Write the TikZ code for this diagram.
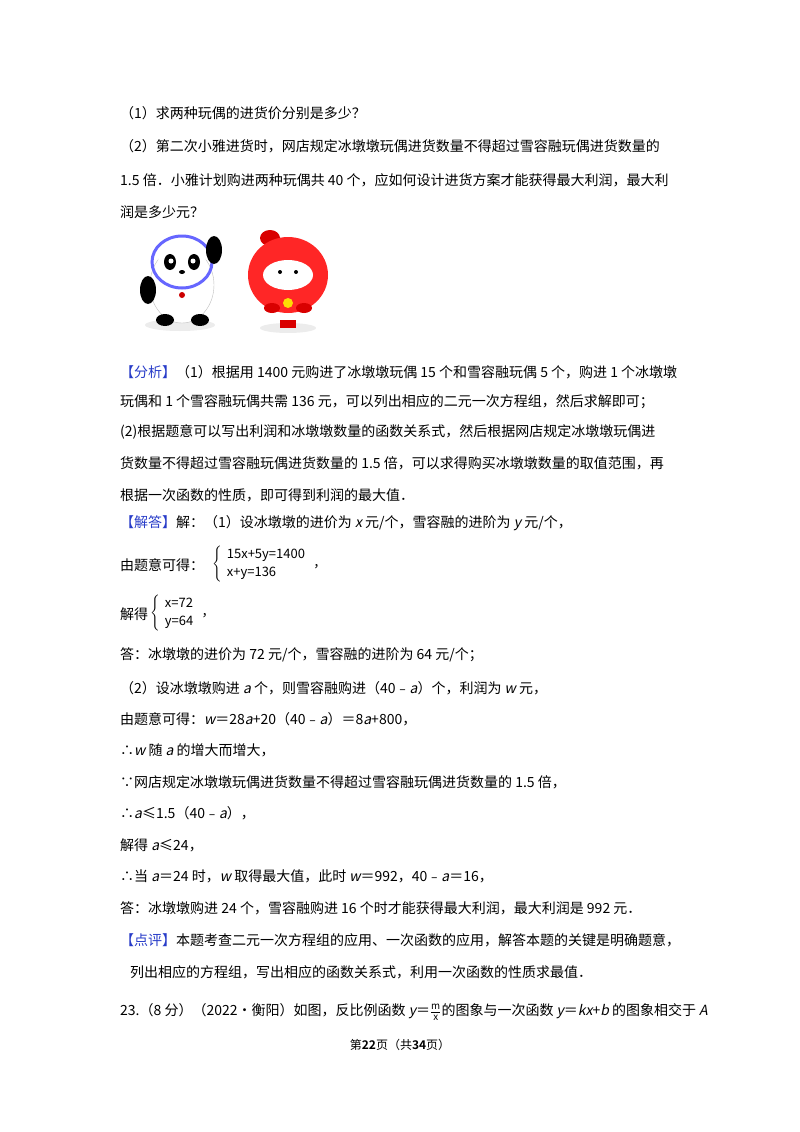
\documentclass[tikz,border=0pt]{standalone}
\usepackage{fontspec}
\setmainfont{Noto Sans CJK SC}[ItalicFont=Noto Sans CJK SC,ItalicFeatures={FakeSlant=0.2},BoldFont=Noto Sans CJK SC Bold]
\usepackage{amsmath}
\definecolor{hd}{RGB}{40,60,200}
\begin{document}
\begin{tikzpicture}[x=1pt,y=-1pt,
  t/.style={anchor=west,inner sep=0pt,font=\fontsize{14}{16}\selectfont},
  eq/.style={anchor=west,inner sep=0pt,font=\fontsize{13}{15}\selectfont}]
\useasboundingbox (0,0) rectangle (800,1132);
\node[t] (l1) at (120,113) {（1）求两种玩偶的进货价分别是多少？};
\node[t] (l2) at (120,146) {（2）第二次小雅进货时，网店规定冰墩墩玩偶进货数量不得超过雪容融玩偶进货数量的};
\node[t] (l3) at (120,180) {1.5 倍．小雅计划购进两种玩偶共 40 个，应如何设计进货方案才能获得最大利润，最大利};
\node[t] (l4) at (120,212) {润是多少元？};
% mascots
\begin{scope}
\fill[gray!15] (180,325) ellipse (35 and 6);
\fill[white,draw=gray!50] (182,285) ellipse (32 and 38);
\draw[blue!60,line width=3pt] (182,262) ellipse (30 and 26);
\fill[white] (182,262) ellipse (24 and 20);
\fill[black] (170,262) ellipse (6 and 8);
\fill[black] (194,262) ellipse (6 and 8);
\fill[white] (171,261) circle (2.5);
\fill[white] (193,261) circle (2.5);
\fill[black] (182,272) ellipse (3 and 2);
\fill[black] (148,290) ellipse (8 and 14);
\fill[black] (214,250) ellipse (8 and 14);
\fill[black] (165,320) ellipse (9 and 6);
\fill[black] (200,320) ellipse (9 and 6);
\fill[red!80!black] (182,295) circle (3);
\end{scope}
\begin{scope}
\fill[gray!15] (288,328) ellipse (28 and 5);
\fill[red!85!black] (270,238) ellipse (10 and 8);
\fill[red!85!black] (280,320) rectangle (296,328);
\fill[red!85] (288,275) ellipse (40 and 38);
\fill[red!85!black] (272,308) ellipse (8 and 5);
\fill[red!85!black] (304,308) ellipse (8 and 5);
\fill[white] (288,275) ellipse (25 and 15);
\fill[black] (280,272) circle (2);
\fill[black] (296,272) circle (2);
\fill[yellow!80!orange] (288,303) circle (5);
\end{scope}
\node[t] (a1) at (120,372) {\textcolor{hd}{【分析】}（1）根据用 1400 元购进了冰墩墩玩偶 15 个和雪容融玩偶 5 个，购进 1 个冰墩墩};
\node[t] (a2) at (120,402) {玩偶和 1 个雪容融玩偶共需 136 元，可以列出相应的二元一次方程组，然后求解即可；};
\node[t] (a3) at (120,432) {(2)根据题意可以写出利润和冰墩墩数量的函数关系式，然后根据网店规定冰墩墩玩偶进};
\node[t] (a4) at (120,463) {货数量不得超过雪容融玩偶进货数量的 1.5 倍，可以求得购买冰墩墩数量的取值范围，再};
\node[t] (a5) at (120,495) {根据一次函数的性质，即可得到利润的最大值．};
\node[t] (s1) at (120,523) {\textcolor{hd}{【解答】}解：（1）设冰墩墩的进价为 \textit{x} 元/个，雪容融的进阶为 \textit{y} 元/个，};
\node[t] (s2) at (120,565) {由题意可得：};
\node[eq] (e1) at (212,564) {$\left\{\begin{array}{l}\text{15x+5y=1400}\\[3pt]\text{x+y=136}\end{array}\right.$\,，};
\node[t] (s3) at (120,614) {解得};
\node[eq] (e2) at (150,613) {$\left\{\begin{array}{l}\text{x=72}\\[3pt]\text{y=64}\end{array}\right.$\,，};
\node[t] (s4) at (120,655) {答：冰墩墩的进价为 72 元/个，雪容融的进阶为 64 元/个；};
\node[t] (s5) at (120,688) {（2）设冰墩墩购进 \textit{a} 个，则雪容融购进（40﹣\textit{a}）个，利润为 \textit{w} 元，};
\node[t] (s6) at (120,719) {由题意可得：\textit{w}＝28\textit{a}+20（40﹣\textit{a}）＝8\textit{a}+800，};
\node[t] (s7) at (120,750) {∴\textit{w} 随 \textit{a} 的增大而增大，};
\node[t] (s8) at (120,782) {∵网店规定冰墩墩玩偶进货数量不得超过雪容融玩偶进货数量的 1.5 倍，};
\node[t] (s9) at (120,813) {∴\textit{a}≤1.5（40﹣\textit{a}），};
\node[t] (s10) at (120,845) {解得 \textit{a}≤24，};
\node[t] (s11) at (120,876) {∴当 \textit{a}＝24 时，\textit{w} 取得最大值，此时 \textit{w}＝992，40﹣\textit{a}＝16，};
\node[t] (s12) at (120,908) {答：冰墩墩购进 24 个，雪容融购进 16 个时才能获得最大利润，最大利润是 992 元．};
\node[t] (p1) at (120,940) {\textcolor{hd}{【点评】}本题考查二元一次方程组的应用、一次函数的应用，解答本题的关键是明确题意，};
\node[t] (p2) at (130,972) {列出相应的方程组，写出相应的函数关系式，利用一次函数的性质求最值．};
\node[t] (q) at (120,1012) {23.（8 分）（2022•衡阳）如图，反比例函数 \textit{y}＝$\frac{\text{m}}{\text{x}}$的图象与一次函数 \textit{y}＝\textit{kx}+\textit{b} 的图象相交于 \textit{A}};
\node[inner sep=0pt,font=\fontsize{12}{14}\selectfont] (f) at (400,1045) {第\textbf{22}页（共\textbf{34}页）};
\end{tikzpicture}
\end{document}
